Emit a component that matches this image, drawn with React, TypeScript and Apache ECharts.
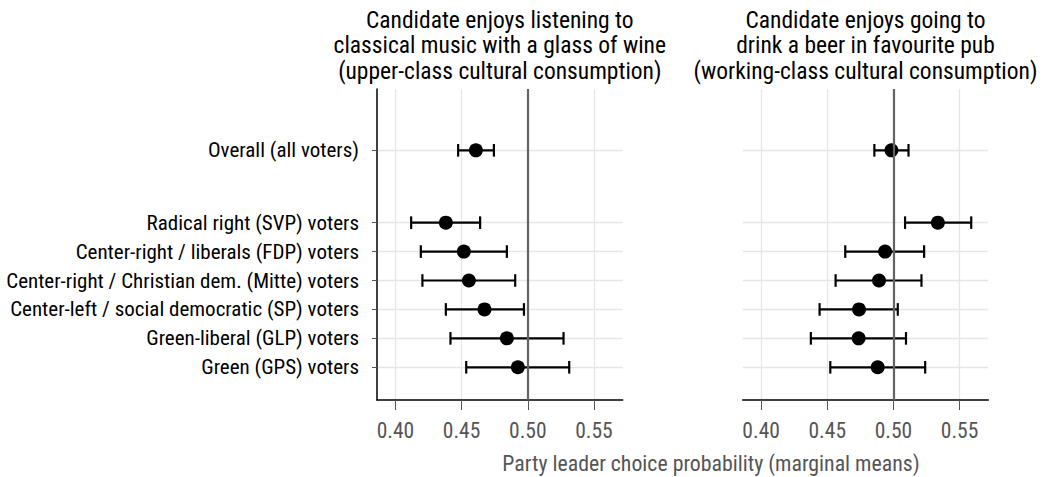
import React, { useEffect, useRef } from "react";
import * as echarts from "echarts";

const categories = [
  "Green (GPS) voters",
  "Green-liberal (GLP) voters",
  "Center-left / social democratic (SP) voters",
  "Center-right / Christian dem. (Mitte) voters",
  "Center-right / liberals (FDP) voters",
  "Radical right (SVP) voters",
  "Overall (all voters)",
];
const positions = [1, 2, 3, 4, 5, 6, 8.5];

const classicalMean = [0.4925, 0.4842, 0.4673, 0.4555, 0.4517, 0.4381, 0.4608];
const classicalLow = [0.4535, 0.4416, 0.4381, 0.4204, 0.4192, 0.4119, 0.4474];
const classicalHigh = [0.5313, 0.527, 0.4971, 0.4905, 0.4842, 0.464, 0.4744];

const beerMean = [0.4881, 0.4737, 0.474, 0.4891, 0.4937, 0.5336, 0.4985];
const beerLow = [0.4523, 0.4376, 0.4442, 0.4563, 0.4636, 0.5088, 0.4856];
const beerHigh = [0.524, 0.5095, 0.5033, 0.5212, 0.5232, 0.5588, 0.5114];

const xTicks = [0.4, 0.45, 0.5, 0.55];
const referenceValue = 0.5;

const titles = [
  "Candidate enjoys listening to\nclassical music with a glass of wine\n(upper-class cultural consumption)",
  "Candidate enjoys going to\ndrink a beer in favourite pub\n(working-class cultural consumption)",
];
const xAxisTitle = "Party leader choice probability (marginal means)";

const FONT = "'Liberation Sans Narrow', 'Roboto Condensed', 'Arial Narrow', sans-serif";

export default function App() {
  const ref = useRef<HTMLDivElement>(null);
  useEffect(() => {
    if (!ref.current) return;
    const chart = echarts.init(ref.current, undefined, { renderer: "svg" });

    const panels = [
      { mean: classicalMean, low: classicalLow, high: classicalHigh },
      { mean: beerMean, low: beerLow, high: beerHigh },
    ];
    const grids = [
      { left: 377, top: 89, width: 245.7, height: 311, containLabel: false, outerBoundsMode: "none" },
      { left: 742.7, top: 89, width: 245.6, height: 311, containLabel: false, outerBoundsMode: "none" },
    ];

    const labelFor = (v: number) => {
      const i = positions.findIndex((p) => Math.abs(p - v) < 1e-6);
      return i >= 0 ? categories[i] : "";
    };

    const xAxis = grids.map((_, i) => ({
      gridIndex: i,
      type: "value",
      min: 0.3861,
      max: 0.5717,
      axisLine: { show: true, onZero: false, lineStyle: { color: "#000", width: 1.5 } },
      axisTick: { show: true, customValues: xTicks, length: 10, lineStyle: { color: "#555", width: 1 } },
      axisLabel: {
        customValues: xTicks,
        formatter: (v: number) => v.toFixed(2),
        margin: 19,
        fontSize: 21.5,
        color: "#555",
        fontFamily: FONT,
      },
      splitLine: { show: true, lineStyle: { color: "#e6e6e6", width: 1.3 } },
    }));

    const yAxis = grids.map((_, i) => ({
      gridIndex: i,
      type: "value",
      min: -0.131,
      max: 10.62,
      axisLine: { show: i === 0, onZero: false, lineStyle: { color: "#000", width: 1.5 } },
      axisTick: { show: i === 0, customValues: positions, length: 5, lineStyle: { color: "#555", width: 1 } },
      axisLabel: {
        show: i === 0,
        customValues: positions,
        formatter: (v: number) => labelFor(v),
        margin: 18,
        fontSize: 21,
        color: "#000",
        fontFamily: FONT,
      },
      splitLine: { show: true, lineStyle: { color: "#e6e6e6", width: 1.3 } },
    }));

    const series: any[] = [];
    panels.forEach((p, i) => {
      series.push({
        type: "scatter",
        xAxisIndex: i,
        yAxisIndex: i,
        data: [],
        z: 1,
        silent: true,
        markLine: {
          silent: true,
          symbol: "none",
          label: { show: false },
          lineStyle: { color: "#636363", width: 2.2, type: "solid" },
          data: [{ xAxis: referenceValue }],
        },
      });
      series.push({
        type: "custom",
        xAxisIndex: i,
        yAxisIndex: i,
        z: 3,
        encode: { x: [1, 2], y: 0 },
        data: positions.map((pos, k) => [pos, p.low[k], p.high[k]]),
        renderItem: (params: any, api: any) => {
          const y = api.value(0);
          const lo = api.coord([api.value(1), y]);
          const hi = api.coord([api.value(2), y]);
          const h = 6.3;
          const st = { stroke: "#000", lineWidth: 2.2 };
          return {
            type: "group",
            children: [
              { type: "line", shape: { x1: lo[0], y1: lo[1], x2: hi[0], y2: hi[1] }, style: st },
              { type: "line", shape: { x1: lo[0], y1: lo[1] - h, x2: lo[0], y2: lo[1] + h }, style: st },
              { type: "line", shape: { x1: hi[0], y1: hi[1] - h, x2: hi[0], y2: hi[1] + h }, style: st },
            ],
          };
        },
      });
      series.push({
        type: "scatter",
        xAxisIndex: i,
        yAxisIndex: i,
        z: 4,
        symbol: "circle",
        symbolSize: 14,
        itemStyle: { color: "#000", opacity: 1 },
        data: positions.map((pos, k) => [p.mean[k], pos]),
      });
    });

    const titleStyle = {
      textAlign: "center",
      textVerticalAlign: "top",
      fontSize: 23.5,
      lineHeight: 25.5,
      fill: "#000",
      fontFamily: FONT,
    };

    chart.setOption({
      animation: false,
      backgroundColor: "#fff",
      grid: grids,
      xAxis,
      yAxis,
      series,
      graphic: [
        { type: "text", x: 499.8, y: 7, style: { ...titleStyle, text: titles[0] } },
        { type: "text", x: 865.5, y: 7, style: { ...titleStyle, text: titles[1] } },
        {
          type: "text",
          x: 711,
          y: 452,
          style: {
            text: xAxisTitle,
            textAlign: "center",
            textVerticalAlign: "top",
            fontSize: 21.8,
            fill: "#555",
            fontFamily: FONT,
          },
        },
      ],
    });
    return () => chart.dispose();
  }, []);
  return (
    <div
      ref={ref}
      style={{ position: "fixed", left: 0, top: 0, width: 1044, height: 477 }}
    />
  );
}
